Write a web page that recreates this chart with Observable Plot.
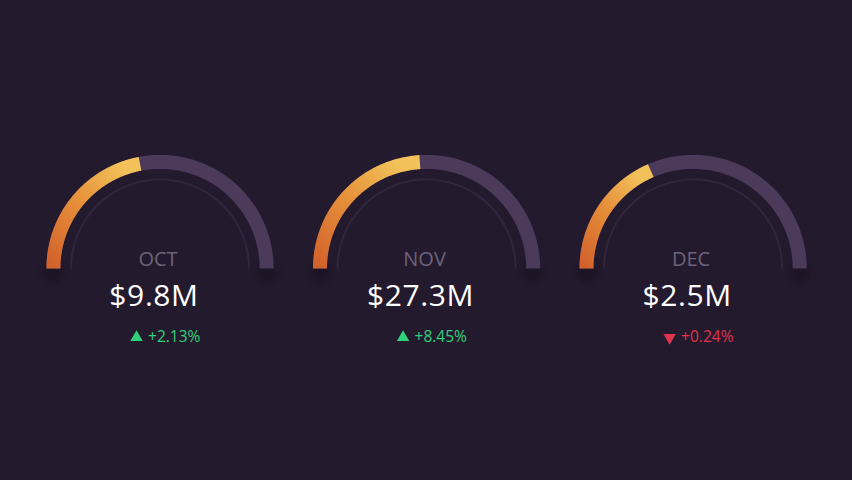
<!DOCTYPE html>
<html>
<head>
<meta charset="utf-8">
<script src="https://cdn.jsdelivr.net/npm/d3@7"></script>
<script src="https://cdn.jsdelivr.net/npm/@observablehq/plot@0.6"></script>
<style>
  html, body { margin: 0; padding: 0; background: #241a2e; }
  #chart { width: 852px; height: 480px; overflow: hidden; }
</style>
</head>
<body>
<div id="chart"></div>
<script>
// ---- data ----
const months = ["OCT", "NOV", "DEC"];
const valueLabels = ["$9.8M", "$27.3M", "$2.5M"];
const fillShare = [0.44, 0.48, 0.37];
const changeLabels = ["+2.13%", "+8.45%", "+0.24%"];
const changeDirection = ["up", "up", "down"];

// ---- geometry helpers (gauge units: one gauge per x unit) ----
const R_ARC = 0.4;     // centerline radius of the thick arc
const R_RING = 0.334;  // thin inner ring
function arcPoints(gauge, r, from, to) {
  const n = 120;
  return d3.range(n + 1).map(k => {
    const a = Math.PI * (1 - (from + (to - from) * k / n));
    return {gauge, x: gauge + r * Math.cos(a), y: r * Math.sin(a)};
  });
}
const track = months.flatMap((m, i) => arcPoints(i, R_ARC, 0, 1));
const ring = months.flatMap((m, i) => arcPoints(i, R_RING, 0, 1));
const filled = months.flatMap((m, i) => arcPoints(i, R_ARC, 0, fillShare[i]));
const ends = months.flatMap((m, i) => [{x: i - R_ARC, y: 0}, {x: i + R_ARC, y: 0}]);
const rows = months.map((m, i) => ({
  i, month: m, value: valueLabels[i], change: changeLabels[i],
  dir: changeDirection[i]
}));
const colorUp = "#2fd27a", colorDown = "#e0334c";

const plot = Plot.plot({
  width: 852,
  height: 480,
  margin: 0,
  x: {domain: [-0.5985, 2.598], axis: null},
  y: {domain: [-0.7955, 1.0056], axis: null},
  style: {background: "#241a2e", fontFamily: "'Open Sans', sans-serif"},
  marks: [
    // soft shadows under the arc ends
    Plot.dot(ends, {x: "x", y: "y", r: 10, dy: 4, fill: "#150d1c", fillOpacity: 0.5}),
    // thin inner ring
    Plot.line(ring, {x: "x", y: "y", z: "gauge", stroke: "#31273d", strokeWidth: 2, strokeLinecap: "butt"}),
    // track
    Plot.line(track, {x: "x", y: "y", z: "gauge", stroke: "#4b3a5a", strokeWidth: 14, strokeLinecap: "butt"}),
    // filled part
    Plot.line(filled, {x: "x", y: "y", z: "gauge", stroke: "url(#gaugeGrad)", strokeWidth: 14, strokeLinecap: "butt"}),
    // month labels
    Plot.text(rows, {x: "i", y: () => 0, text: "month", dy: -9, dx: -2, fill: "#6d6379", fontSize: 20}),
    // values
    Plot.text(rows, {x: "i", y: () => 0, text: "value", dy: 28, dx: -6, fill: "#ffffff", fontSize: 30}),
    // change arrows
    Plot.dot(rows, {x: "i", y: () => 0, dx: -23.5, dy: 69, symbol: "triangle", r: 4.6,
      fill: d => d.dir === "up" ? colorUp : colorDown,
      rotate: d => d.dir === "up" ? 0 : 180, stroke: "none"}),
    // change text
    Plot.text(rows, {x: "i", y: () => 0, text: "change", dx: -12, dy: 69, textAnchor: "start",
      fill: d => d.dir === "up" ? colorUp : colorDown, fontSize: 15.5})
  ]
});

const svg = d3.select(plot);
// blur the end shadows
svg.select('g[aria-label="dot"]').style("filter", "blur(3px)");
// a little breathing room between "$" and the digits, as in the reference
svg.selectAll('g[aria-label="text"]').filter((d, k) => k === 1).style("letter-spacing", "0.6px");

// gradient definition for the filled arcs
const defs = svg.insert("defs", ":first-child");
const grad = defs.append("linearGradient")
  .attr("id", "gaugeGrad")
  .attr("x1", 0).attr("y1", 1).attr("x2", 0.75).attr("y2", 0);
grad.append("stop").attr("offset", "0%").attr("stop-color", "#d2612b");
grad.append("stop").attr("offset", "55%").attr("stop-color", "#e6903a");
grad.append("stop").attr("offset", "100%").attr("stop-color", "#f2c15a");

document.getElementById("chart").appendChild(plot);
</script>
</body>
</html>
